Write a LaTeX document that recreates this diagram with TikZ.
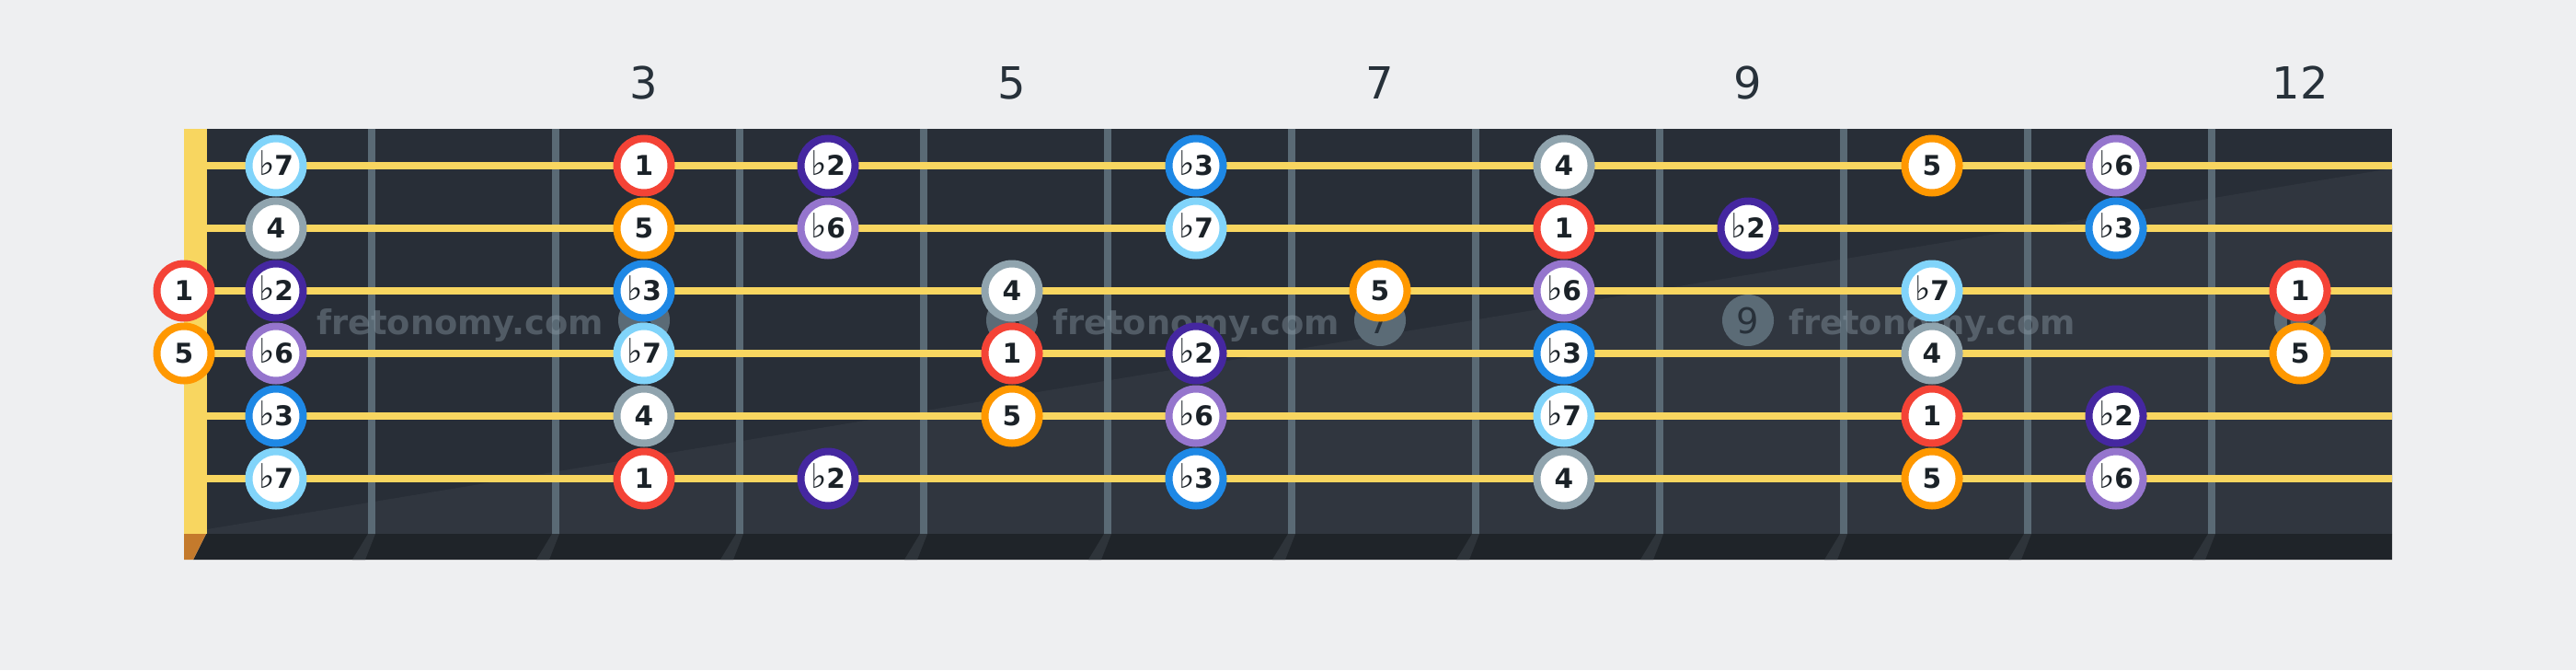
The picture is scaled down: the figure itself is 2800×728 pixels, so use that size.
\documentclass[tikz,border=0pt]{standalone}
\usepackage{fontspec}
\setmainfont{DejaVu Sans}
\definecolor{bg}{HTML}{EEEFF1}
\definecolor{board}{HTML}{282E37}
\definecolor{wedge}{HTML}{30363F}
\definecolor{strip}{HTML}{1F2429}
\definecolor{stripsh}{HTML}{2E343A}
\definecolor{nutc}{HTML}{F8D660}
\definecolor{nutb}{HTML}{C47A2C}
\definecolor{fretc}{HTML}{5A6A75}
\definecolor{strc}{HTML}{F8D660}
\definecolor{inlayc}{HTML}{5B6B76}
\definecolor{inlayt}{HTML}{28313A}
\definecolor{ink}{HTML}{1B2228}
\definecolor{numc}{HTML}{27313A}
\definecolor{wmc}{HTML}{8C9BA6}
\definecolor{cR}{HTML}{F44336}
\definecolor{cO}{HTML}{FF9800}
\definecolor{cB}{HTML}{1E88E5}
\definecolor{cG}{HTML}{90A4AE}
\definecolor{cL}{HTML}{81D4FA}
\definecolor{cD}{HTML}{4527A0}
\definecolor{cP}{HTML}{9575CD}
\newcommand\fb{{\fontsize{9.2}{10}\selectfont\mdseries ♭}}
\begin{document}
\begin{tikzpicture}[x=0.25pt,y=-0.25pt,
  note/.style={circle,minimum size=14.75pt,inner sep=0pt,line width=2pt,fill=white,text=ink,
    font=\fontsize{7.4}{8}\selectfont\bfseries,text height=5.4pt,text depth=0pt},
  d1/.style={note,draw=cR}, d5/.style={note,draw=cO}, db3/.style={note,draw=cB},
  d4/.style={note,draw=cG}, db7/.style={note,draw=cL}, db2/.style={note,draw=cD},
  db6/.style={note,draw=cP},
  inlay/.style={circle,minimum size=14pt,inner sep=0pt,fill=inlayc,text=inlayt,
    font=\fontsize{9.6}{10}\selectfont,text height=7pt,text depth=0pt},
  fretnum/.style={anchor=base,text=numc,font=\fontsize{12}{14}\selectfont,inner sep=0pt},
  wmark/.style={anchor=base,text=wmc,text opacity=0.42,font=\fontsize{9.2}{10}\selectfont\bfseries,inner sep=0pt},
  fretw/.style={draw=fretc,line width=2pt},
  strw/.style={draw=strc,line width=2pt}]
\useasboundingbox[fill=bg] (0,0) rectangle (2800,728);
% board
\fill[board] (200,140) rectangle (2600,580);
\fill[wedge] (225,580) -- (225,575) -- (2600,183) -- (2600,580) -- cycle;
% bottom strip
\fill[strip] (224,580) -- (2600,580) -- (2600,608) -- (210,608) -- cycle;
\fill[nutb] (200,580) -- (224,580) -- (210,608) -- (200,608) -- cycle;
\foreach \n in {1,...,11} {
  \fill[stripsh] ({200+200*\n},580) -- ++(8,0) -- ++(-11,28) -- ++(-14,0) -- cycle;
}
% nut
\fill[nutc] (200,140) rectangle (225,580);
% frets
\foreach \n in {1,...,11} {
  \draw[fretw] ({204+200*\n},140) -- ({204+200*\n},580);
}
% strings
\foreach \y in {180,248,316,384,452,520} {
  \draw[strw] (225,\y) -- (2600,\y);
}
% watermarks
\node[wmark] (wm1) at (500,363) {fretonomy.com};
\node[wmark] (wm2) at (1300,363) {fretonomy.com};
\node[wmark] (wm3) at (2100,363) {fretonomy.com};
% inlays
\node[inlay] (in3) at (700,348) {3};
\node[inlay] (in5) at (1100,348) {5};
\node[inlay] (in7) at (1500,348) {7};
\node[inlay] (in9) at (1900,348) {9};
\node[inlay] (in12) at (2500,348) {12};
% fret numbers
\node[fretnum] (fn3) at (700,107) {3};
\node[fretnum] (fn5) at (1100,107) {5};
\node[fretnum] (fn7) at (1500,107) {7};
\node[fretnum] (fn9) at (1900,107) {9};
\node[fretnum] (fn12) at (2500,107) {12};
% string 1
\node[db7] (s1f1) at (300,180) {\fb7};
\node[d1] (s1f3) at (700,180) {1};
\node[db2] (s1f4) at (900,180) {\fb2};
\node[db3] (s1f6) at (1300,180) {\fb3};
\node[d4] (s1f8) at (1700,180) {4};
\node[d5] (s1f10) at (2100,180) {5};
\node[db6] (s1f11) at (2300,180) {\fb6};
% string 2
\node[d4] (s2f1) at (300,248) {4};
\node[d5] (s2f3) at (700,248) {5};
\node[db6] (s2f4) at (900,248) {\fb6};
\node[db7] (s2f6) at (1300,248) {\fb7};
\node[d1] (s2f8) at (1700,248) {1};
\node[db2] (s2f9) at (1900,248) {\fb2};
\node[db3] (s2f11) at (2300,248) {\fb3};
% string 3
\node[d1] (s3f0) at (200,316) {1};
\node[db2] (s3f1) at (300,316) {\fb2};
\node[db3] (s3f3) at (700,316) {\fb3};
\node[d4] (s3f5) at (1100,316) {4};
\node[d5] (s3f7) at (1500,316) {5};
\node[db6] (s3f8) at (1700,316) {\fb6};
\node[db7] (s3f10) at (2100,316) {\fb7};
\node[d1] (s3f12) at (2500,316) {1};
% string 4
\node[d5] (s4f0) at (200,384) {5};
\node[db6] (s4f1) at (300,384) {\fb6};
\node[db7] (s4f3) at (700,384) {\fb7};
\node[d1] (s4f5) at (1100,384) {1};
\node[db2] (s4f6) at (1300,384) {\fb2};
\node[db3] (s4f8) at (1700,384) {\fb3};
\node[d4] (s4f10) at (2100,384) {4};
\node[d5] (s4f12) at (2500,384) {5};
% string 5
\node[db3] (s5f1) at (300,452) {\fb3};
\node[d4] (s5f3) at (700,452) {4};
\node[d5] (s5f5) at (1100,452) {5};
\node[db6] (s5f6) at (1300,452) {\fb6};
\node[db7] (s5f8) at (1700,452) {\fb7};
\node[d1] (s5f10) at (2100,452) {1};
\node[db2] (s5f11) at (2300,452) {\fb2};
% string 6
\node[db7] (s6f1) at (300,520) {\fb7};
\node[d1] (s6f3) at (700,520) {1};
\node[db2] (s6f4) at (900,520) {\fb2};
\node[db3] (s6f6) at (1300,520) {\fb3};
\node[d4] (s6f8) at (1700,520) {4};
\node[d5] (s6f10) at (2100,520) {5};
\node[db6] (s6f11) at (2300,520) {\fb6};
\end{tikzpicture}
\end{document}
